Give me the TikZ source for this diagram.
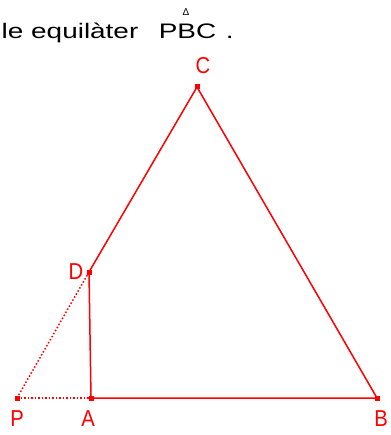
\documentclass[tikz,border=0pt]{standalone}
\usepackage{fontspec}
\setmainfont{Liberation Sans}
\newfontfamily\widefont[FakeStretch=1.33]{Liberation Sans}
\newfontfamily\narrowfont[FakeStretch=0.88]{Liberation Sans}
\begin{document}
\begin{tikzpicture}[x=1pt,y=-1pt,line width=1.5pt]
\useasboundingbox (0,0) rectangle (390,435);
\tikzset{pt/.style={fill=red,inner sep=0pt,minimum size=5pt},
  lbl/.style={text=red,font=\narrowfont\fontsize{23}{25}\selectfont,inner sep=0pt},
  txt/.style={anchor=base west,inner sep=0pt,font=\widefont\fontsize{21}{23}\selectfont}}
\node[txt] (t) at (1,39) {le equilàter};
\node[txt] (pbc) at (158,39) {PBC};
\node[txt] (stop) at (225,39) {.};
\node[inner sep=0pt,font=\fontsize{10}{11}\selectfont] (tri) at (186,12.5) {Δ};
\node[pt] (p) at (17,398) {};
\node[pt] (a) at (91,398) {};
\node[pt] (b) at (377,398) {};
\node[pt] (c) at (197,87) {};
\node[pt] (d) at (89,272) {};
\draw[red] (c.center) -- (b.center) -- (a.center) -- (d.center) -- (c.center);
\draw[red,dotted] (p.center) -- (d.center);
\draw[red,dotted] (p.center) -- (a.center);
\node[lbl] (lc) at (203,66) {C};
\node[lbl] (ld) at (76,272) {D};
\node[lbl] (lp) at (17,419) {P};
\node[lbl] (la) at (88,419) {A};
\node[lbl] (lb) at (381,419) {B};
\end{tikzpicture}
\end{document}
